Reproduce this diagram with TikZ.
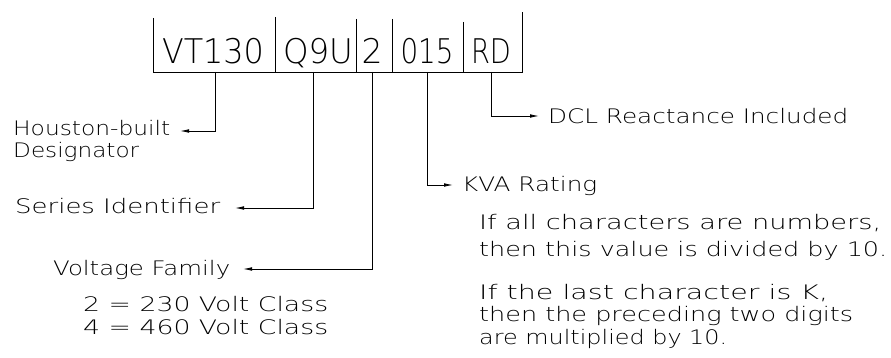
\documentclass[tikz,border=0pt]{standalone}
\usepackage{fontspec}
\usepackage{graphicx}
\usetikzlibrary{arrows.meta}
\newfontfamily\cadfont{DejaVu Sans ExtraLight}
\newcommand{\fitw}[2]{\resizebox{#1}{\height}{#2}}
\begin{document}
\begin{tikzpicture}[x=1pt,y=-1pt,
  lbl/.style={inner sep=0pt, anchor=base west, align=left,
    font=\cadfont\fontsize{20}{22.5}\selectfont},
  boxtxt/.style={inner sep=0pt, anchor=base,
    font=\cadfont\fontsize{34}{40}\selectfont},
  wire/.style={line width=0.8pt},
  arr/.style={wire, -{Latex[length=9pt,width=3.6pt]}}]
\useasboundingbox (0,0) rectangle (891,358);

% code box
\draw[wire] (153,18) -- (153,72) -- (522,72) -- (522,12);
\draw[wire] (275,17) -- (275,72);
\draw[wire] (356,19) -- (356,72);
\draw[wire] (392,19) -- (392,72);
\draw[wire] (463,22) -- (463,72);

\node[boxtxt] (vt)  at (213,64) {\fitw{102pt}{VT130}};
\node[boxtxt] (q9u) at (318,64) {\fitw{70pt}{Q9U}};
\node[boxtxt] (two) at (372,64) {\fitw{21pt}{2}};
\node[boxtxt] (kva) at (427,64) {\fitw{53pt}{015}};
\node[boxtxt] (rd)  at (491,64) {\fitw{40pt}{RD}};

% connector start and end points
\coordinate (d1) at (215,72);
\coordinate (d2) at (313,72);
\coordinate (d3) at (372,72);
\coordinate (d4) at (427,72);
\coordinate (d5) at (491,72);
\coordinate (e1) at (180,131);
\coordinate (e2) at (235,208);
\coordinate (e3) at (243,269);
\coordinate (e4) at (453,185);
\coordinate (e5) at (539,116);

% labels (base anchor = baseline of the last line)
\node[lbl] (hb) at (13,158) {\fitw{157pt}{Houston-built}\\\fitw{126pt}{Designator}};
\node[lbl] (si) at (15,214) {\fitw{205pt}{Series Identifier}};
\node[lbl] (vf) at (53,275) {\fitw{177pt}{Voltage Family}};
\node[lbl] (vc) at (83,334) {\fitw{245pt}{2 = 230 Volt Class}\\\fitw{245pt}{4 = 460 Volt Class}};
\node[lbl] (dcl) at (548,124) {\fitw{300pt}{DCL Reactance Included}};
\node[lbl] (kr) at (462,192) {\fitw{135pt}{KVA Rating}};
\node[lbl] (p1) at (479,256) {\fitw{402pt}{If all characters are numbers,}\\[4pt]\fitw{408pt}{then this value is divided by 10.}};
\node[lbl] (p2) at (479,344) {\fitw{349pt}{If the last character is K,}\\\fitw{374pt}{then the preceding two digits}\\\fitw{248pt}{are multiplied by 10.}};

% connectors
\draw[arr] (d1) |- (e1);
\draw[arr] (d2) |- (e2);
\draw[arr] (d3) |- (e3);
\draw[arr] (d4) |- (e4);
\draw[arr] (d5) |- (e5);
\end{tikzpicture}
\end{document}
